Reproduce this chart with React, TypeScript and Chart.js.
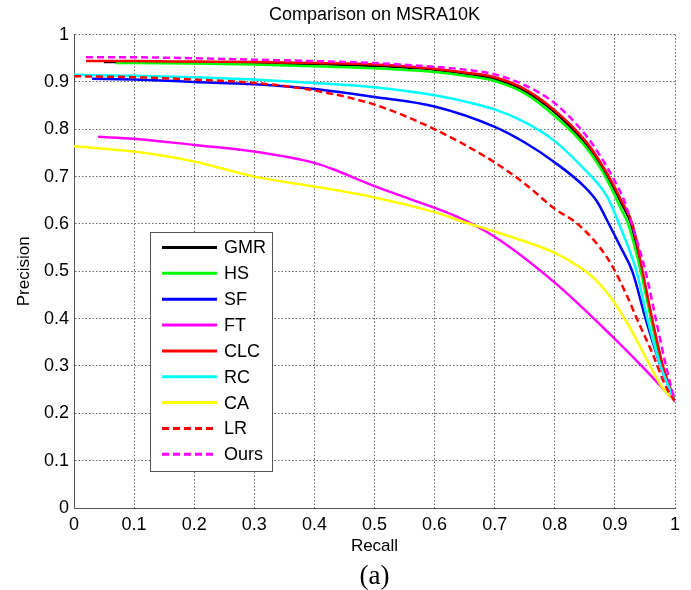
import React, { useEffect, useRef } from 'react';
import { Chart, registerables } from 'chart.js';

Chart.register(...registerables);

// ---------- text ----------
const TITLE = 'Comparison on MSRA10K';
const X_TITLE = 'Recall';
const Y_TITLE = 'Precision';
const CAPTION = '(a)';

// ---------- ticks ----------
const tickValues = [0, 0.1, 0.2, 0.3, 0.4, 0.5, 0.6, 0.7, 0.8, 0.9, 1];
const xTickLabels = ['0', '0.1', '0.2', '0.3', '0.4', '0.5', '0.6', '0.7', '0.8', '0.9', '1'];
const yTickLabels = ['0', '0.1', '0.2', '0.3', '0.4', '0.5', '0.6', '0.7', '0.8', '0.9', '1'];

// ---------- series (recall, precision) ----------
const seriesNames = ['GMR', 'HS', 'SF', 'FT', 'CLC', 'RC', 'CA', 'LR', 'Ours'];

const gmr = [
  [0.05, 0.942], [0.1, 0.942], [0.2, 0.941], [0.3, 0.94], [0.4, 0.938], [0.5, 0.934],
  [0.6, 0.926], [0.65, 0.918], [0.7, 0.906], [0.75, 0.881], [0.8, 0.836], [0.85, 0.772],
  [0.875, 0.727], [0.9, 0.672], [0.91, 0.646], [0.927, 0.6], [0.945, 0.5], [0.961, 0.4],
  [0.979, 0.3], [1.0, 0.225],
];
const hs = [
  [0.07, 0.94], [0.1, 0.94], [0.2, 0.939], [0.3, 0.937], [0.4, 0.933], [0.5, 0.929],
  [0.6, 0.921], [0.65, 0.913], [0.7, 0.902], [0.75, 0.876], [0.8, 0.828], [0.85, 0.765],
  [0.875, 0.72], [0.9, 0.66], [0.907, 0.64], [0.922, 0.6], [0.943, 0.5], [0.96, 0.4],
  [0.978, 0.3], [1.0, 0.225],
];
const sf = [
  [0.03, 0.907], [0.1, 0.905], [0.2, 0.9], [0.3, 0.895], [0.4, 0.885], [0.5, 0.868],
  [0.6, 0.848], [0.7, 0.805], [0.75, 0.772], [0.8, 0.73], [0.85, 0.678], [0.87, 0.648],
  [0.89, 0.6], [0.91, 0.55], [0.929, 0.5], [0.951, 0.4], [0.976, 0.3], [1.0, 0.225],
];
const ft = [
  [0.04, 0.784], [0.1, 0.78], [0.2, 0.767], [0.3, 0.753], [0.4, 0.729], [0.43, 0.716],
  [0.5, 0.68], [0.563, 0.651], [0.638, 0.615], [0.7, 0.573], [0.8, 0.476], [0.896, 0.362],
  [0.946, 0.298], [1.0, 0.225],
];
const clc = [
  [0.02, 0.944], [0.1, 0.944], [0.2, 0.943], [0.3, 0.942], [0.4, 0.94], [0.5, 0.937],
  [0.6, 0.928], [0.65, 0.92], [0.7, 0.91], [0.75, 0.885], [0.8, 0.84], [0.85, 0.777],
  [0.875, 0.732], [0.9, 0.677], [0.91, 0.651], [0.929, 0.6], [0.946, 0.5], [0.962, 0.4],
  [0.98, 0.3], [1.0, 0.225],
];
const rc = [
  [0.0, 0.915], [0.1, 0.913], [0.2, 0.91], [0.3, 0.905], [0.4, 0.898], [0.5, 0.889],
  [0.6, 0.872], [0.7, 0.842], [0.75, 0.815], [0.8, 0.775], [0.85, 0.715], [0.875, 0.68],
  [0.89, 0.651], [0.907, 0.6], [0.936, 0.5], [0.954, 0.4], [0.976, 0.3], [1.0, 0.225],
];
const ca = [
  [0.0, 0.764], [0.1, 0.753], [0.2, 0.732], [0.3, 0.7], [0.4, 0.679], [0.5, 0.656],
  [0.6, 0.625], [0.654, 0.602], [0.7, 0.584], [0.8, 0.539], [0.84, 0.51], [0.868, 0.482],
  [0.896, 0.44], [0.924, 0.383], [0.951, 0.319], [0.978, 0.256], [1.0, 0.225],
];
const lr = [
  [0.0, 0.912], [0.1, 0.91], [0.2, 0.905], [0.3, 0.898], [0.4, 0.882], [0.5, 0.852],
  [0.6, 0.8], [0.7, 0.73], [0.75, 0.685], [0.8, 0.632], [0.836, 0.602], [0.874, 0.552],
  [0.896, 0.51], [0.918, 0.454], [0.94, 0.39], [0.962, 0.328], [0.985, 0.256], [1.0, 0.225],
];
const ours = [
  [0.02, 0.952], [0.1, 0.952], [0.2, 0.95], [0.3, 0.947], [0.4, 0.944], [0.5, 0.94],
  [0.6, 0.932], [0.65, 0.926], [0.7, 0.916], [0.75, 0.893], [0.8, 0.855], [0.85, 0.79],
  [0.875, 0.745], [0.9, 0.69], [0.915, 0.651], [0.928, 0.6], [0.951, 0.5], [0.968, 0.4],
  [0.985, 0.3], [1.0, 0.225],
];

const seriesData = [gmr, hs, sf, ft, clc, rc, ca, lr, ours];

// ---------- styles ----------
const seriesColors = ['#000000', '#00ff00', '#0000ff', '#ff00ff', '#ff0000', '#00ffff', '#ffff00', '#ff0000', '#ff00ff'];
const seriesDashed = [false, false, false, false, false, false, false, true, true];

const SANS = '"Liberation Sans", Arial, Helvetica, sans-serif';
const SERIF = '"Liberation Serif", "Times New Roman", serif';

export default function App() {
  const ref = useRef<HTMLCanvasElement | null>(null);

  useEffect(() => {
    document.body.style.margin = '0';
    const canvas = ref.current;
    if (!canvas) return;

    const boxLegend = {
      id: 'boxLegend',
      afterDraw(chart: any) {
        const c = chart.ctx as CanvasRenderingContext2D;
        const bx = 150, by = 232, bw = 122, bh = 239;
        c.save();
        c.fillStyle = '#ffffff';
        c.fillRect(bx, by, bw, bh);
        c.strokeStyle = '#555555';
        c.lineWidth = 1;
        c.strokeRect(bx + 0.5, by + 0.5, bw, bh);
        c.font = `18px ${SANS}`;
        c.textBaseline = 'middle';
        c.textAlign = 'left';
        seriesNames.forEach((name, i) => {
          const y = 247.5 + i * 25.85;
          c.beginPath();
          c.strokeStyle = seriesColors[i];
          c.lineWidth = 3;
          c.setLineDash(seriesDashed[i] ? [7, 4] : []);
          c.moveTo(162, y);
          c.lineTo(217, y);
          c.stroke();
          c.setLineDash([]);
          c.fillStyle = '#000000';
          c.fillText(name, 224, y + 1);
        });
        c.restore();
      },
    };

    const datasets = seriesNames.map((name, i) => ({
      label: name,
      data: seriesData[i].map(([x, y]) => ({ x, y })),
      borderColor: seriesColors[i],
      backgroundColor: seriesColors[i],
      borderWidth: 2.5,
      borderDash: seriesDashed[i] ? [7, 4] : [],
      pointRadius: 0,
      fill: false,
      cubicInterpolationMode: 'monotone' as const,
      order: seriesNames.length - 1 - i,
    }));

    const chart = new Chart(canvas, {
      type: 'line',
      data: { datasets },
      plugins: [boxLegend],
      options: {
        responsive: false,
        animation: false,
        devicePixelRatio: 1,
        layout: { padding: { left: 0, right: 16, top: 0, bottom: 0 } },
        plugins: {
          legend: { display: false },
          tooltip: { enabled: false },
          title: {
            display: true,
            text: TITLE,
            fullSize: false,
            color: '#000000',
            font: { family: SANS, size: 18, weight: 'normal', lineHeight: 1.2 },
            padding: { top: 4, bottom: 9 },
          },
          subtitle: {
            display: true,
            text: CAPTION,
            position: 'bottom',
            fullSize: false,
            color: '#000000',
            font: { family: SERIF, size: 27, weight: 'normal', lineHeight: 1 },
            padding: { top: 0, bottom: 0 },
          },
        },
        scales: {
          x: {
            type: 'linear',
            min: 0,
            max: 1,
            afterBuildTicks: (scale: any) => {
              scale.ticks = tickValues.map((v) => ({ value: v }));
            },
            afterFit: (scale: any) => {
              scale.height = 55;
            },
            ticks: {
              autoSkip: false,
              maxRotation: 0,
              padding: 6,
              color: '#000000',
              font: { family: SANS, size: 18 },
              callback: (_v: any, i: number) => xTickLabels[i],
            },
            grid: { color: '#666666', lineWidth: 1, drawTicks: false },
            border: { display: true, color: '#555555', width: 1, dash: [1.5, 2] },
            title: {
              display: true,
              text: X_TITLE,
              color: '#000000',
              font: { family: SANS, size: 17 },
              padding: { top: 0, bottom: 6 },
            },
          },
          y: {
            type: 'linear',
            min: 0,
            max: 1,
            afterBuildTicks: (scale: any) => {
              scale.ticks = tickValues.map((v) => ({ value: v }));
            },
            afterFit: (scale: any) => {
              scale.width = 74;
            },
            ticks: {
              autoSkip: false,
              padding: 5,
              color: '#000000',
              font: { family: SANS, size: 18 },
              callback: (_v: any, i: number) => yTickLabels[i],
            },
            grid: { color: '#666666', lineWidth: 1, drawTicks: false },
            border: { display: true, color: '#555555', width: 1, dash: [1.5, 2] },
            title: {
              display: true,
              text: Y_TITLE,
              color: '#000000',
              font: { family: SANS, size: 17 },
              padding: { top: 14, bottom: 0 },
            },
          },
        },
      } as any,
    });

    return () => chart.destroy();
  }, []);

  return (
    <canvas
      ref={ref}
      width={691}
      height={590}
      style={{ display: 'block', width: '691px', height: '590px' }}
    />
  );
}
